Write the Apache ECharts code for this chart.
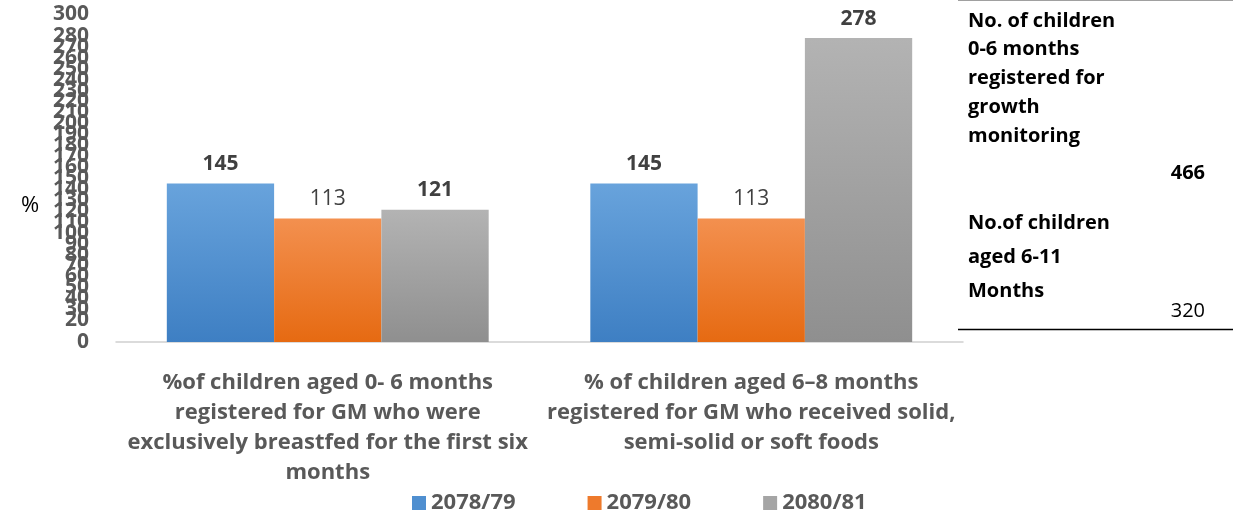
<!DOCTYPE html>
<html>
<head>
<meta charset="utf-8">
<script src="https://cdn.jsdelivr.net/npm/echarts@6/dist/echarts.min.js"></script>
<style>
  html, body { margin: 0; padding: 0; background: #fff; }
  #chart { width: 1233px; height: 523px; }
</style>
</head>
<body>
<div id="chart"></div>
<script>
// categories (line breaks as in the original)
var categories = [
  "%of children aged 0- 6 months\nregistered for GM who were\nexclusively breastfed for the first six\nmonths",
  "% of children aged 6\u20138 months\nregistered for GM who received solid,\nsemi-solid or soft foods"
];
var seriesNames = ["2078/79", "2079/80", "2080/81"];
var s2078 = [145, 145];
var s2079 = [113, 113];
var s2080 = [121, 278];
// which labels were bold in the picture
var boldLabels = [true, false, true];

var sideNotes = [
  ["No. of children", "0-6 months", "registered for", "growth", "monitoring"],
  ["No.of children", "aged 6-11", "Months"]
];
var sideValues = ["466", "320"];

var font = "'Open Sans'";

function grad(top, bottom) {
  return new echarts.graphic.LinearGradient(0, 0, 0, 1, [
    { offset: 0, color: top },
    { offset: 1, color: bottom }
  ]);
}

var colors = [
  grad("#68a3dc", "#3e7fc3"),
  grad("#f3904f", "#e66a12"),
  grad("#b3b3b3", "#8f8f8f")
];
var legendColors = ["#4f8fd0", "#ee7a2c", "#a5a5a5"];

function makeSeries(i, data) {
  return {
    name: seriesNames[i],
    type: "bar",
    data: data,
    barGap: "0%",
    barCategoryGap: "24%",
    itemStyle: { color: colors[i] },
    label: {
      show: true,
      position: "top",
      distance: 9,
      fontFamily: font,
      fontSize: 21,
      fontWeight: boldLabels[i] ? "bold" : "normal",
      color: "#404040"
    }
  };
}

// right side note block
var notes = [];
var y = 23;
sideNotes[0].forEach(function (t) {
  notes.push({ type: "text", left: 968, top: y - 12, style: { text: t, font: "bold 20px " + font, fill: "#000" } });
  y += 28.7;
});
notes.push({ type: "text", right: 28, top: 163, style: { text: sideValues[0], font: "bold 20px " + font, fill: "#000" } });
var y2 = [225, 259, 293];
sideNotes[1].forEach(function (t, k) {
  notes.push({ type: "text", left: 968, top: y2[k] - 12, style: { text: t, font: "bold 20px " + font, fill: "#000" } });
});
notes.push({ type: "text", right: 28, top: 301, style: { text: sideValues[1], font: "20px " + font, fill: "#000" } });
notes.push({ type: "line", shape: { x1: 958, y1: 0.5, x2: 1233, y2: 0.5 }, style: { stroke: "#a0a0a0", lineWidth: 1 } });
notes.push({ type: "line", shape: { x1: 958, y1: 329.5, x2: 1233, y2: 329.5 }, style: { stroke: "#000", lineWidth: 1.5 } });
notes.push({ type: "text", left: 21, top: 195, style: { text: "%", font: "22px " + font, fill: "#000" } });

var chart = echarts.init(document.getElementById("chart"));
chart.setOption({
  animation: false,
  legend: {
    bottom: 4,
    left: 407,
    itemWidth: 14,
    itemHeight: 14,
    itemGap: 72,
    icon: "rect",
    textStyle: { fontSize: 22, fontWeight: "bold", color: "#595959", fontFamily: font },
    data: seriesNames.map(function (n, i) { return { name: n, itemStyle: { color: legendColors[i] } }; })
  },
  grid: { left: 116, right: 270, top: 14, bottom: 181, containLabel: false },
  xAxis: {
    type: "category",
    data: categories,
    axisLine: { lineStyle: { color: "#d0d0d0", width: 1.5 } },
    axisTick: { show: false },
    axisLabel: {
      interval: 0,
      margin: 26,
      fontFamily: font,
      fontSize: 22,
      fontWeight: "bold",
      lineHeight: 30,
      color: "#595959"
    }
  },
  yAxis: {
    type: "value",
    min: 0,
    max: 300,
    interval: 10,
    splitLine: { show: false },
    axisLine: { show: false },
    axisTick: { show: false },
    axisLabel: {
      margin: 27,
      fontFamily: font,
      fontSize: 21,
      fontWeight: "bold",
      color: "#595959",
      showMinLabel: true,
      showMaxLabel: true,
      hideOverlap: false
    }
  },
  graphic: notes,
  series: [makeSeries(0, s2078), makeSeries(1, s2079), makeSeries(2, s2080)]
});
</script>
</body>
</html>
